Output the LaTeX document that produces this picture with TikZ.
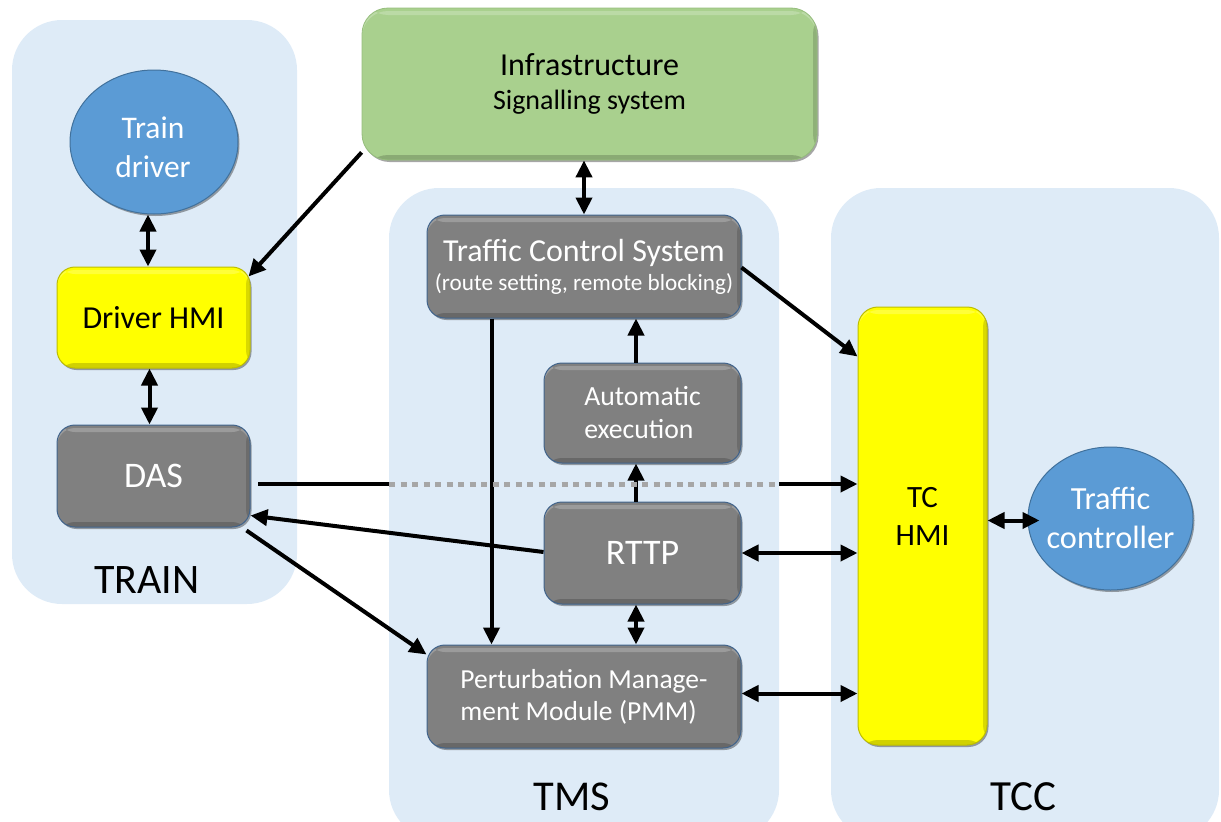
\documentclass[tikz,border=0pt]{standalone}
\usepackage{fontspec}
\setmainfont{Carlito}
\usetikzlibrary{arrows.meta,shapes.geometric,shadows}
\definecolor{panelblue}{RGB}{222,235,247}
\definecolor{boxgray}{RGB}{128,128,128}
\definecolor{grayedge}{RGB}{65,100,140}
\definecolor{hmiyellow}{RGB}{255,255,0}
\definecolor{yellowedge}{RGB}{190,190,0}
\definecolor{infragreen}{RGB}{169,208,142}
\definecolor{greenedge}{RGB}{150,190,125}
\definecolor{actorblue}{RGB}{91,155,213}
\definecolor{actoredge}{RGB}{65,113,156}
\definecolor{dotgray}{RGB}{166,166,166}
\newcommand{\myfs}[2]{\fontsize{#1}{#2}\selectfont}
\tikzset{
  panel/.style={fill=panelblue, rounded corners=50pt},
  bevel/.style={path picture={
      \fill[white,opacity=0.22] ([yshift=-3pt]path picture bounding box.north west) rectangle ([yshift=-7pt]path picture bounding box.north east);
      \fill[black,opacity=0.18] ([yshift=5pt]path picture bounding box.south west) rectangle (path picture bounding box.south east);
      \fill[black,opacity=0.15] ([xshift=-4pt]path picture bounding box.north east) rectangle (path picture bounding box.south east);
  }},
  boxshadow/.style={drop shadow={shadow xshift=1.5pt,shadow yshift=-2pt,opacity=0.35,fill=black}},
  graybox/.style={draw=grayedge, line width=1pt, fill=boxgray, rounded corners=18pt, inner sep=0pt, text=white, boxshadow, bevel},
  yellowbox/.style={draw=yellowedge, line width=1pt, fill=hmiyellow, rounded corners=18pt, inner sep=0pt, text=black, boxshadow, bevel},
  greenbox/.style={draw=greenedge, line width=0.8pt, fill=infragreen, rounded corners=26pt, inner sep=0pt, text=black, boxshadow, bevel},
  actor/.style={ellipse, draw=actoredge, line width=1pt, fill=actorblue, inner sep=0pt, boxshadow},
  actortext/.style={text=white, inner sep=0pt, align=center},
  conn/.style={line width=4pt, -{Triangle[length=17pt,width=16pt]}},
  biconn/.style={line width=4pt, {Triangle[length=17pt,width=16pt]}-{Triangle[length=17pt,width=16pt]}},
  plainline/.style={line width=4pt},
  dotline/.style={line width=5pt, dotgray, dash pattern=on 6pt off 5.5pt},
  paneltext/.style={text=black, inner sep=0pt}
}
\begin{document}
\begin{tikzpicture}[x=1pt,y=-1pt]
\useasboundingbox (0,0) rectangle (1221,822);
\begin{scope}
\clip (0,0) rectangle (1221,822);
\fill[panel] (12,20) rectangle (297,604);
\fill[panel] (389,188) rectangle (779,840);
\fill[panel] (831,188) rectangle (1219,840);
\end{scope}

% panel labels
\node[paneltext, font=\myfs{42}{46}] (trainlbl) at (147,580) {TRAIN};
\node[paneltext, font=\myfs{42.5}{46}] (tmslbl) at (572,797) {TMS};
\node[paneltext, font=\myfs{43}{46}] (tcclbl) at (1023,797) {TCC};

% nodes
\node[greenbox, minimum width=455pt, minimum height=152pt, align=center, font=\myfs{32}{34}] (infra) at (589.5,84)
  {Infrastructure\\{\myfs{28}{34}Signalling system}};
\node[actor, minimum width=168pt, minimum height=144pt] (driver) at (154,142) {};
\node[actortext, font=\myfs{31.5}{39}] (drivertxt) at (153,147) {Train\\driver};
\node[yellowbox, minimum width=193pt, minimum height=101pt, font=\myfs{32}{36}] (dhmi) at (153.5,317.5) {Driver HMI};
\node[graybox, minimum width=193pt, minimum height=102pt, font=\myfs{36}{40}] (das) at (153.5,476) {DAS};
\node[graybox, minimum width=314pt, minimum height=103pt, align=center, font=\myfs{32}{29}] (tcs) at (584,266.5)
  {Traffic Control System\\{\myfs{23.2}{29}(route setting, remote blocking)}};
\node[graybox, minimum width=197pt, minimum height=100pt, align=left, font=\myfs{27.7}{33}] (auto) at (642.5,413) {Automatic\\execution};
\node[graybox, minimum width=197pt, minimum height=102pt, font=\myfs{36}{40}] (rttp) at (642.5,553) {RTTP};
\node[graybox, minimum width=314pt, minimum height=103pt, align=left, font=\myfs{27.5}{32}] (pmm) at (584,696.5) {Perturbation Manage-\\ment Module (PMM)};
\node[yellowbox, minimum width=129pt, minimum height=438pt, rounded corners=20pt] (tchmi) at (922.5,526) {};
\node[text=black, inner sep=0pt, align=center, font=\myfs{31}{38}] (tchmitxt) at (922.5,516) {TC\\HMI};
\node[actor, minimum width=165pt, minimum height=143pt] (ctrl) at (1110.5,518.5) {};
\node[actortext, font=\myfs{32.3}{39}] (ctrltxt) at (1110.5,517.5) {Traffic\\controller};

% helper coordinates for the DAS -> TC HMI line
\coordinate (dasout) at (258,484);
\coordinate (dotA) at (389,484);
\coordinate (dotB) at (779,484);

% connectors
\draw[biconn] ([xshift=-6pt]driver.south) -- ([xshift=-6pt]driver.south |- dhmi.north);
\draw[biconn] ([xshift=-4pt]dhmi.south) -- ([xshift=-4pt]dhmi.south |- das.north);
\draw[conn] ([yshift=8pt]infra.south west) -- ([xshift=-2pt,yshift=-10pt]dhmi.north east);
\draw[biconn] (tcs.north |- infra.south) -- (tcs.north);
\draw[conn] ([yshift=-1pt]tcs.east) -- ([yshift=-50pt]tchmi.north west);
\draw[conn] ([xshift=65pt]tcs.south west) -- ([xshift=65pt]pmm.north west);
\draw[conn] ([xshift=-6.5pt]auto.north) -- ([xshift=-6.5pt]auto.north |- tcs.south);
\draw[conn] ([xshift=-6.5pt]rttp.north) -- ([xshift=-6.5pt]rttp.north |- auto.south);
\draw[biconn] ([xshift=-6.5pt]rttp.south) -- ([xshift=-6.5pt]rttp.south |- pmm.north);
\draw[plainline] (dasout) -- (dotA);
\draw[dotline] (dotA) -- (dotB);
\draw[conn] (dotB) -- (dotB -| tchmi.west);
\draw[conn] ([yshift=1pt]rttp.west) -- ([yshift=12pt]das.south east);
\draw[conn] ([xshift=-4pt,yshift=-3pt]das.south east) -- ([yshift=-10pt]pmm.north west);
\draw[biconn] (rttp.east) -- (rttp.east -| tchmi.west);
\draw[biconn] ([yshift=3pt]pmm.east) -- ([yshift=3pt]pmm.east -| tchmi.west);
\draw[biconn] ([xshift=12pt,yshift=-2pt]ctrl.west) -- ([yshift=-2pt]ctrl.west -| tchmi.east);
\end{tikzpicture}
\end{document}
